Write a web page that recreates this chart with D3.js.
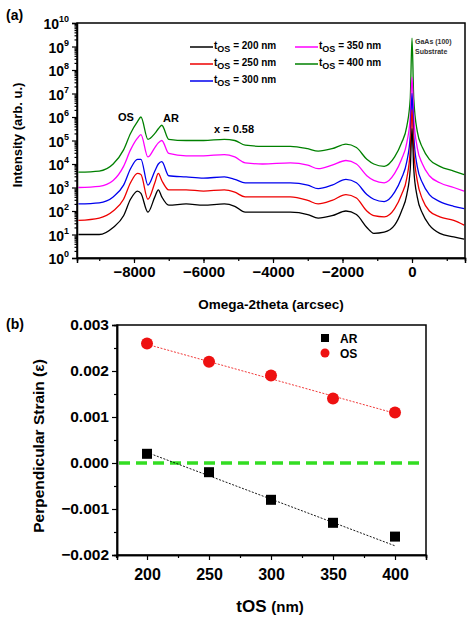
<!DOCTYPE html>
<html><head><meta charset="utf-8">
<script src="https://cdn.jsdelivr.net/npm/d3@7"></script>
<style>body{margin:0;background:#fff;font-family:Arial,"Liberation Sans",sans-serif;} text{font-weight:bold;}</style>
</head><body><div id="vis"></div>
<script>
// panel (a) data: omega-2theta grid and log10 intensity per thickness
const OMEGA = [-9600,-9000,-8600,-8300,-8100,-7900,-7800,-7600,-7400,-7300,-7200,-7000,-6500,-6000,-5400,-5100,-4800,-4300,-3500,-3000,-2700,-2300,-1900,-1600,-1300,-1100,-800,-500,-300,-150,-50,0,50,150,300,500,800,1200,1500];
const LOG_200 = [1.0,1.0,1.3,1.8,2.5,2.85,2.75,1.95,2.6,2.9,2.6,2.25,2.3,2.25,2.3,2.2,1.95,1.95,1.95,1.85,1.7,1.8,2.0,1.85,1.3,1.05,1.1,1.4,2.0,2.7,3.8,5.5,3.8,2.6,1.9,1.4,1.05,0.9,0.8];
const LOG_250 = [1.6,1.7,2.0,2.5,3.2,3.6,3.55,2.5,3.2,3.6,3.3,2.9,2.9,2.85,2.9,2.8,2.6,2.6,2.6,2.45,2.3,2.45,2.7,2.55,2.0,1.8,1.75,2.1,2.7,3.4,4.6,6.3,4.6,3.3,2.5,2.0,1.75,1.6,1.4];
const LOG_300 = [2.3,2.35,2.6,3.1,3.8,4.2,4.2,3.1,3.7,4.0,4.1,3.5,3.45,3.4,3.45,3.35,3.2,3.2,3.2,3.1,2.95,3.1,3.35,3.2,2.7,2.5,2.4,2.8,3.4,4.1,5.2,7.0,5.2,3.9,3.2,2.7,2.4,2.2,2.1];
const LOG_350 = [3.0,3.05,3.3,3.9,4.6,5.1,5.25,4.3,4.7,4.9,5.0,4.45,4.35,4.35,4.4,4.3,4.05,4.0,4.05,3.95,3.8,3.95,4.15,4.0,3.5,3.3,3.2,3.6,4.2,4.9,6.0,7.7,6.0,4.7,4.0,3.5,3.2,3.0,2.85];
const LOG_400 = [3.65,3.7,4.0,4.6,5.3,5.8,6.0,5.05,5.3,5.5,5.65,5.05,5.0,5.0,5.05,5.0,4.8,4.75,4.75,4.65,4.55,4.65,4.85,4.7,4.2,4.0,3.9,4.3,4.9,5.6,6.8,9.35,6.8,5.4,4.7,4.2,3.9,3.7,3.55];
const SERIES_NAMES = ["200","250","300","350","400"];
const SERIES_COLORS = ["#000000","#ee0000","#0000ee","#ff00ff","#008000"];
const Y_TICKS_A = [0,1,2,3,4,5,6,7,8,9,10];
const X_TICKS_A = [-8000,-6000,-4000,-2000,0];

// panel (b) data
const THICK = [200,250,300,350,400];
const STRAIN_AR = [0.0002,-0.0002,-0.0008,-0.0013,-0.0016];
const STRAIN_OS = [0.0026,0.0022,0.0019,0.0014,0.0011];
const FIT_AR = [0.00023,-0.0018];
const FIT_OS = [0.00258,0.00108];
const Y_TICKS_B = [0.003,0.002,0.001,0,-0.001,-0.002];
const X_TICKS_B = [200,250,300,350,400];

const svg = d3.select("#vis").append("svg").attr("width",474).attr("height",622);

// ---------- panel (a)
const A = {left:77,right:465,top:23,bottom:258};
const xA = d3.scaleLinear().domain([-9640,1525]).range([A.left,A.right]);
const yA = d3.scaleLinear().domain([0,10]).range([A.bottom,A.top]);
const logs = [LOG_200,LOG_250,LOG_300,LOG_350,LOG_400];
const line = d3.line().x((d,i)=>xA(OMEGA[i])).y(d=>yA(d)).curve(d3.curveMonotoneX);
for (let s=4; s>=0; s--) {
  svg.append("path").attr("d",line(logs[s])).attr("fill","none")
     .attr("stroke",SERIES_COLORS[s]).attr("stroke-width",1.3);
}
// axes
const minorY = [];
for (let e=0;e<10;e++) for (let k=2;k<10;k++) minorY.push(e+Math.log10(k));
svg.append("g").attr("transform",`translate(${A.left},0)`)
  .call(d3.axisLeft(yA).tickValues(minorY).tickSize(2.5).tickFormat(""))
  .call(g=>g.select(".domain").remove());
const yAxA = svg.append("g").attr("transform",`translate(${A.left},0)`)
  .call(d3.axisLeft(yA).tickValues(Y_TICKS_A).tickSize(5).tickFormat(""));
yAxA.selectAll(".tick").append("text").attr("x",-8).attr("dy","0.4em").attr("text-anchor","end")
  .attr("fill","#000").attr("font-size",14).attr("font-family","Arial")
  .html(d=>`10<tspan dy="-7" font-size="9">${d}</tspan>`);
svg.append("g").attr("transform",`translate(0,${A.bottom})`)
  .call(d3.axisBottom(xA).tickValues(d3.range(-9000,1501,1000)).tickSize(3).tickFormat(""));
svg.append("g").attr("transform",`translate(0,${A.bottom})`)
  .call(d3.axisBottom(xA).tickValues(X_TICKS_A).tickSize(5).tickFormat(d3.format("d")))
  .attr("font-size",15).attr("font-family","Arial");
svg.append("rect").attr("x",A.left).attr("y",A.top).attr("width",A.right-A.left).attr("height",A.bottom-A.top)
  .attr("fill","none").attr("stroke","#000").attr("stroke-width",1.5);
svg.selectAll(".domain").attr("stroke-width",1.5);
svg.append("text").attr("x",6).attr("y",20).attr("font-size",14).text("(a)");
svg.append("text").attr("x",(A.left+A.right)/2).attr("y",309).attr("text-anchor","middle").attr("font-size",13.5).text("Omega-2theta (arcsec)");
svg.append("text").attr("transform","translate(22,135) rotate(-90)").attr("text-anchor","middle").attr("font-size",13).text("Intensity (arb. u.)");
// legend
SERIES_NAMES.forEach((n,i)=>{
  const lx = i<3 ? 190 : 295, ly = 47 + (i<3 ? i : i-3)*17;
  svg.append("line").attr("x1",lx).attr("x2",lx+23).attr("y1",ly).attr("y2",ly).attr("stroke",SERIES_COLORS[i]).attr("stroke-width",1.5);
  svg.append("text").attr("x",lx+24).attr("y",ly+2).attr("font-size",10)
    .html(`t<tspan dy="3" font-size="9">OS</tspan><tspan dy="-3"> = ${n} nm</tspan>`);
});
svg.append("text").attr("x",415).attr("y",44).attr("font-size",7).attr("font-weight","normal").attr("fill","#333").text("GaAs (100)");
svg.append("text").attr("x",415).attr("y",54).attr("font-size",7).attr("font-weight","normal").attr("fill","#333").text("Substrate");
svg.append("text").attr("x",118).attr("y",121).attr("font-size",11).text("OS");
svg.append("text").attr("x",163).attr("y",122).attr("font-size",11).text("AR");
svg.append("text").attr("x",214).attr("y",133).attr("font-size",11).text("x = 0.58");

// ---------- panel (b)
const B = {left:117,right:426,top:325,bottom:555};
const xB = d3.scaleLinear().domain([175.8,425]).range([B.left,B.right]);
const yB = d3.scaleLinear().domain([-0.002,0.003]).range([B.bottom,B.top]);
svg.append("g").attr("transform",`translate(${B.left},0)`)
  .call(d3.axisLeft(yB).tickValues(d3.range(-0.0015,0.003,0.001)).tickSize(3).tickFormat(""));
svg.append("g").attr("transform",`translate(${B.left},0)`)
  .call(d3.axisLeft(yB).tickValues(Y_TICKS_B).tickSize(5).tickFormat(d3.format(".3f")))
  .attr("font-size",15.5).attr("font-family","Arial");
svg.append("g").attr("transform",`translate(0,${B.bottom})`)
  .call(d3.axisBottom(xB).tickValues([175,225,275,325,375,425]).tickSize(3).tickFormat(""));
svg.append("g").attr("transform",`translate(0,${B.bottom})`)
  .call(d3.axisBottom(xB).tickValues(X_TICKS_B).tickSize(5).tickFormat(d3.format("d")))
  .attr("font-size",16).attr("font-family","Arial")
  .call(g=>g.selectAll("text").attr("dy","1.05em"));
svg.append("rect").attr("x",B.left).attr("y",B.top).attr("width",B.right-B.left).attr("height",B.bottom-B.top)
  .attr("fill","none").attr("stroke","#000").attr("stroke-width",1.5);
svg.selectAll(".domain").attr("stroke-width",1.5);
svg.selectAll(".tick line").attr("stroke-width",1.2);
svg.append("line").attr("x1",B.left+2).attr("x2",B.right-2).attr("y1",yB(0)).attr("y2",yB(0))
  .attr("stroke","#33dd22").attr("stroke-width",3.5).attr("stroke-dasharray","11,6");
svg.append("line").attr("x1",xB(200)).attr("x2",xB(400)).attr("y1",yB(FIT_OS[0])).attr("y2",yB(FIT_OS[1]))
  .attr("stroke","#ee2222").attr("stroke-width",0.9).attr("stroke-dasharray","2,1.5");
svg.append("line").attr("x1",xB(200)).attr("x2",xB(400)).attr("y1",yB(FIT_AR[0])).attr("y2",yB(FIT_AR[1]))
  .attr("stroke","#000").attr("stroke-width",0.9).attr("stroke-dasharray","2,1.5");
svg.selectAll(".os").data(STRAIN_OS).enter().append("circle")
  .attr("cx",(d,i)=>xB(THICK[i])).attr("cy",d=>yB(d)).attr("r",6).attr("fill","#ee1111");
svg.selectAll(".ar").data(STRAIN_AR).enter().append("rect")
  .attr("x",(d,i)=>xB(THICK[i])-5).attr("y",d=>yB(d)-5).attr("width",10).attr("height",10).attr("fill","#000");
svg.append("rect").attr("x",321).attr("y",334).attr("width",8).attr("height",8).attr("fill","#000");
svg.append("text").attr("x",340).attr("y",343).attr("font-size",12).text("AR");
svg.append("circle").attr("cx",325).attr("cy",353).attr("r",4.5).attr("fill","#ee1111");
svg.append("text").attr("x",340).attr("y",358).attr("font-size",12).text("OS");
svg.append("text").attr("x",6).attr("y",329).attr("font-size",14).text("(b)");
svg.append("text").attr("transform","translate(44,446) rotate(-90)").attr("text-anchor","middle").attr("font-size",15.5).text("Perpendicular Strain (ε)");
svg.append("text").attr("x",270).attr("y",612).attr("text-anchor","middle").attr("font-size",17)
  .html(`tOS <tspan font-size="15">(nm)</tspan>`);
</script></body></html>
